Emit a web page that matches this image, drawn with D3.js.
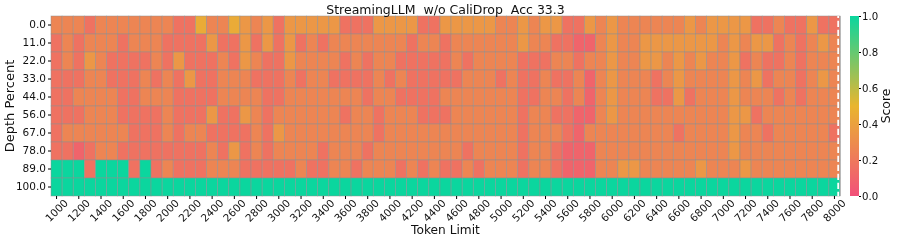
<!DOCTYPE html>
<html><head><meta charset="utf-8">
<script src="https://cdn.jsdelivr.net/npm/d3@7/dist/d3.min.js"></script>
<style>html,body{margin:0;padding:0;background:#fff}svg{display:block;filter:blur(0.3px)}text{font-family:"DejaVu Sans",sans-serif;fill:#111;white-space:pre}</style>
</head><body><svg id="c" width="897" height="241"></svg>
<script>
const title = "StreamingLLM  w/o CaliDrop  Acc 33.3";
const xLabel = "Token Limit", yLabel = "Depth Percent", barLabel = "Score";
const tokenLimits = d3.range(1000, 8001, 100);
const depths = ["0.0","11.0","22.0","33.0","44.0","56.0","67.0","78.0","89.0","100.0"];
const colorStops = [0, 0.5, 1];
const colorValues = ["#f2507a", "#e9b52f", "#0bd69e"];
const barTicks = [0, 0.2, 0.4, 0.6, 0.8, 1];
const a=0.1,b=0.17,c=0.26,d=0.35,e=0.45,G=1;
const row0 = [c,c,c,b,c,c,c,c,c,c,c,b,b,e,c,c,e,d,c,d,b,d,d,d,d,d,b,b,b,d,d,d,d,b,b,d,d,d,d,d,c,c,d,c,d,d,b,b,d,c,d,c,c,c,c,c,c,d,c,d,d,d,d,b,b,c,b,b,d,b,b];
const row1 = [b,c,b,c,c,c,b,c,c,c,b,b,b,b,d,b,b,d,b,d,b,d,b,c,b,c,c,c,c,c,c,c,b,c,c,b,c,c,c,c,c,c,d,c,c,b,b,a,a,c,d,c,c,d,d,d,d,d,d,d,c,d,c,d,d,b,c,b,c,d,c];
const row2 = [b,c,b,d,c,b,b,b,b,c,b,d,b,b,b,c,b,d,c,b,b,d,c,c,c,c,b,c,b,c,c,b,b,b,b,b,c,b,c,c,c,c,b,b,b,c,c,b,c,c,d,c,c,d,d,c,d,c,d,c,c,d,b,c,b,b,c,b,c,c,c];
const row3 = [b,b,b,c,c,b,b,b,c,b,c,b,d,b,b,c,c,c,b,b,b,c,b,c,c,b,b,b,b,c,b,c,b,b,b,b,b,c,c,c,b,c,b,b,c,b,b,c,a,c,d,c,c,c,b,c,d,c,c,c,c,d,c,d,b,c,c,b,c,d,c];
const row4 = [b,b,c,c,c,c,b,b,c,c,c,b,b,b,b,c,c,c,c,b,b,c,c,c,c,c,c,c,b,c,c,b,b,b,b,c,c,c,c,c,c,c,b,b,c,c,b,c,a,c,d,c,c,c,b,b,d,b,c,c,c,d,c,c,c,b,c,b,c,c,c];
const row5 = [b,b,b,c,c,c,b,b,b,b,c,b,b,b,d,b,b,d,c,b,c,c,c,c,c,c,b,c,c,b,c,c,c,b,b,b,c,c,c,c,c,c,b,c,c,b,b,a,a,c,d,c,c,c,c,c,c,c,c,c,c,d,d,b,c,c,c,c,c,c,c];
const row6 = [b,c,c,c,c,c,c,b,b,b,c,b,c,c,b,b,b,b,c,b,d,c,c,c,c,c,c,c,c,b,c,c,c,c,c,c,c,c,c,c,c,c,b,c,c,c,b,a,c,c,c,c,c,c,c,c,b,c,c,c,c,d,c,c,b,c,c,c,c,c,b];
const row7 = [b,b,a,b,c,c,b,b,b,b,b,b,b,b,c,b,d,b,c,b,c,c,c,c,b,c,c,c,b,c,c,c,c,c,c,c,c,b,c,c,c,c,b,c,c,b,a,a,a,c,c,c,c,c,c,c,c,c,c,c,c,d,c,c,c,c,c,c,c,c,c];
const row8 = [G,G,G,b,G,G,G,b,G,b,c,b,b,b,c,c,c,b,b,b,b,b,c,b,b,c,c,b,c,c,c,b,c,b,c,b,b,c,b,c,c,c,b,c,c,b,a,a,a,c,c,d,d,c,c,c,c,c,d,c,c,c,d,c,c,c,c,c,c,c,c];
const row9 = tokenLimits.map(() => G);
const rows = [row0,row1,row2,row3,row4,row5,row6,row7,row8,row9];

const svg = d3.select("#c");
const plot = {l:51, r:840, t:16, b:196};
const x = d3.scaleBand().domain(tokenLimits).range([plot.l, plot.r]);
const y = d3.scaleBand().domain(depths).range([plot.t, plot.b]);
const color = d3.scaleLinear().domain(colorStops).range(colorValues);

svg.append("g").selectAll("g").data(rows).join("g").each(function(vals, ri){
  d3.select(this).selectAll("rect").data(vals).join("rect")
    .attr("x",(v,i)=>x(tokenLimits[i])).attr("y",y(depths[ri]))
    .attr("width",x.bandwidth()).attr("height",y.bandwidth())
    .attr("fill",v=>color(v)).attr("stroke","#8f8f8f").attr("stroke-opacity",0.7).attr("stroke-width",0.7);
});
// white dashed marker
svg.append("line").attr("x1",838.2).attr("x2",838.2).attr("y1",plot.t).attr("y2",plot.b)
  .attr("stroke","#fff").attr("stroke-width",1.8).attr("stroke-dasharray","6.2 2.8").attr("stroke-dashoffset",4.2);
svg.append("line").attr("x1",840.2).attr("x2",840.2).attr("y1",plot.t).attr("y2",plot.b)
  .attr("stroke","#a8a8a8").attr("stroke-width",1);

const xAxis = d3.axisBottom(x).tickValues(tokenLimits.filter(t=>t%200===0)).tickSize(3).tickPadding(2);
const gx = svg.append("g").attr("transform",`translate(0,${plot.b})`).call(xAxis);
gx.select(".domain").remove();
gx.selectAll("text").attr("font-size",10.5).attr("text-anchor","middle").attr("x",0).attr("y",0).attr("dy","0.35em")
  .attr("transform","translate(0,14.5) rotate(-45)");
const gy = svg.append("g").attr("transform",`translate(${plot.l},0)`).call(d3.axisLeft(y).tickSize(3).tickPadding(2));
gy.select(".domain").remove();
gy.selectAll("text").attr("font-size",10.5);

svg.append("text").attr("x",445.5).attr("y",14).attr("text-anchor","middle").attr("font-size",12.5).text(title);
svg.append("text").attr("x",445.5).attr("y",234).attr("text-anchor","middle").attr("font-size",12.2).text(xLabel);
svg.append("text").attr("transform",`translate(14,106) rotate(-90)`).attr("text-anchor","middle").attr("font-size",13).text(yLabel);

// colour bar
const bar = {l:850, r:859, t:16, b:196};
const yb = d3.scaleLinear().domain([0,1]).range([bar.b,bar.t]);
const defs = svg.append("defs");
const grad = defs.append("linearGradient").attr("id","g").attr("x1",0).attr("x2",0).attr("y1",1).attr("y2",0);
grad.selectAll("stop").data(colorStops).join("stop").attr("offset",v=>v).attr("stop-color",v=>color(v));
svg.append("rect").attr("x",bar.l).attr("y",bar.t).attr("width",bar.r-bar.l).attr("height",bar.b-bar.t).attr("fill","url(#g)");
const gb = svg.append("g").attr("transform",`translate(${bar.r},0)`).call(d3.axisRight(yb).tickValues(barTicks).tickFormat(d3.format(".1f")).tickSize(2).tickPadding(1));
gb.select(".domain").remove();
gb.selectAll("text").attr("font-size",10.2);
svg.append("text").attr("transform",`translate(889.5,106) rotate(-90)`).attr("text-anchor","middle").attr("font-size",12.4).text(barLabel);
</script></body></html>
